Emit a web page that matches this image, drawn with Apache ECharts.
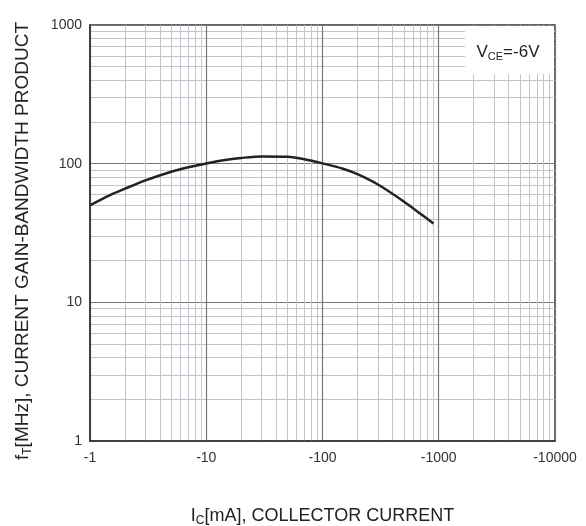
<!DOCTYPE html>
<html>
<head>
<meta charset="utf-8">
<script src="https://cdn.jsdelivr.net/npm/echarts@6/dist/echarts.min.js"></script>
<style>html,body{margin:0;padding:0;background:#fff}#c{width:586px;height:526px}</style>
</head>
<body>
<div id="c"></div>
<script>
// Collector current Ic [mA] (negative, PNP) and fT [MHz]
const collectorCurrent = [-1, -1.5, -2, -3, -5, -7, -10, -15, -20, -30, -50, -70, -100, -150, -200, -300, -500, -700, -900];
const gainBandwidth   = [50, 59.5, 66, 75.8, 87.5, 94.2, 100.4, 106.7, 110, 112.8, 112, 107.5, 100.5, 92, 84, 70.7, 53.4, 43.4, 37];
const xTickLabels = ['-1', '-10', '-100', '-1000', '-10000'];
const yTickLabels = ['1', '10', '100', '1000'];

const FONT = '"Liberation Sans", Arial, sans-serif';
const chart = echarts.init(document.getElementById('c'), null, {renderer: 'canvas'});
const seriesData = collectorCurrent.map((v, i) => [Math.abs(v), gainBandwidth[i]]);

const titleRich = {
  a: {fontFamily: FONT, fontSize: 18, color: '#222', verticalAlign: 'bottom', lineHeight: 22},
  s: {fontFamily: FONT, fontSize: 12, color: '#222', verticalAlign: 'bottom', lineHeight: 22, padding: [0,0,-2,0]}
};

chart.setOption({
  animation: false,
  backgroundColor: '#fff',
  grid: {left: 90, right: 31, top: 25, bottom: 85, outerBoundsMode: 'none', containLabel: false,
    show: true, borderColor: '#333', borderWidth: 1.5, backgroundColor: 'transparent'},
  xAxis: {
    type: 'log', logBase: 10, min: 1, max: 10000,
    name: '{a|I}{s|C}{a|[mA], COLLECTOR CURRENT}',
    nameLocation: 'middle', nameGap: 62,
    nameTextStyle: {rich: titleRich},
    axisLine: {show: true, lineStyle: {color: '#333', width: 1.5}},
    axisTick: {show: false},
    axisLabel: {fontFamily: FONT, fontSize: 14, color: '#333', margin: 10,
      formatter: v => { const i = Math.round(Math.log10(v)); return xTickLabels[i] !== undefined ? xTickLabels[i] : ''; }},
    splitLine: {show: true, lineStyle: {color: '#76767c', width: 1.2}},
    minorTick: {show: false, splitNumber: 9},
    minorSplitLine: {show: true, lineStyle: {color: '#c4c4cc', width: 1}}
  },
  yAxis: {
    type: 'log', logBase: 10, min: 1, max: 1000,
    axisLine: {show: true, lineStyle: {color: '#333', width: 1.5}},
    axisTick: {show: false},
    axisLabel: {fontFamily: FONT, fontSize: 14, color: '#333', margin: 8,
      formatter: v => { const i = Math.round(Math.log10(v)); return yTickLabels[i] !== undefined ? yTickLabels[i] : ''; }},
    splitLine: {show: true, lineStyle: {color: '#76767c', width: 1.2}},
    minorTick: {show: false, splitNumber: 9},
    minorSplitLine: {show: true, lineStyle: {color: '#c4c4cc', width: 1}}
  },
  series: [{
    type: 'line', data: seriesData, smooth: 0.3, symbol: 'none',
    lineStyle: {color: '#222', width: 2.5}, z: 5
  }],
  graphic: [{
    type: 'text', x: 21, y: 241, rotation: Math.PI / 2, z: 50,
    style: {
      text: '{a|f}{s|T}{a|[MHz], CURRENT GAIN-BANDWIDTH PRODUCT}',
      align: 'center', verticalAlign: 'middle',
      rich: {
        a: {fontFamily: FONT, fontSize: 19, fill: '#222', verticalAlign: 'bottom', lineHeight: 22},
        s: {fontFamily: FONT, fontSize: 12, fill: '#222', verticalAlign: 'bottom', lineHeight: 22, padding: [0,0,-2,0]}
      }
    }
  }, {
    type: 'rect', shape: {x: 465, y: 26, width: 89, height: 48}, style: {fill: '#fff'}, z: 100
  }, {
    type: 'text', x: 508, y: 51, z: 101,
    style: {
      text: '{a|V}{s|CE}{a|=-6V}',
      align: 'center', verticalAlign: 'middle',
      rich: {
        a: {fontFamily: FONT, fontSize: 17, fill: '#222', verticalAlign: 'bottom', lineHeight: 20},
        s: {fontFamily: FONT, fontSize: 11, fill: '#222', verticalAlign: 'bottom', lineHeight: 20, padding: [0,0,-1,0]}
      }
    }
  }]
});
</script>
</body>
</html>
